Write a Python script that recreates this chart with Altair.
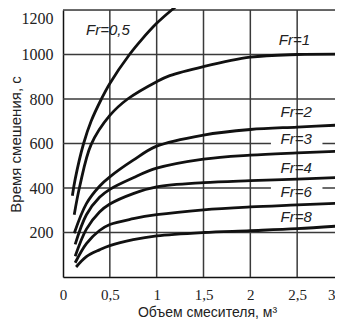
import altair as alt
import pandas as pd

# ---- data ----
fr_names = ["Fr=0,5", "Fr=1", "Fr=2", "Fr=3", "Fr=4", "Fr=6", "Fr=8"]

x_fr05 = [0.10, 0.13, 0.22, 0.30, 0.41, 0.50, 0.71, 0.84, 1.00, 1.16, 1.25]
y_fr05 = [365, 440, 600, 700, 800, 870, 1000, 1067, 1140, 1200, 1230]

x_fr1 = [0.12, 0.18, 0.30, 0.50, 0.69, 1.00, 1.14, 1.50, 2.00, 2.50, 3.00]
y_fr1 = [280, 410, 595, 726, 800, 878, 905, 946, 988, 1000, 1002]

x_common = [0.25, 0.39, 0.50, 0.75, 1.00, 1.50, 2.00, 2.50, 3.00]
x_fr2 = [0.12] + x_common
y_fr2 = [197, 330, 408, 450, 525, 588, 638, 663, 674, 684]
x_fr3 = [0.13] + x_common
y_fr3 = [147, 280, 358, 394, 446, 489, 530, 548, 558, 566]
x_fr4 = [0.13] + x_common
y_fr4 = [93, 215, 292, 328, 375, 405, 424, 433, 440, 448]
x_fr6 = [0.13] + x_common
y_fr6 = [64, 150, 209, 236, 262, 280, 302, 315, 324, 333]
x_fr8 = [0.14] + x_common
y_fr8 = [45, 92, 122, 141, 168, 185, 200, 208, 217, 231]

label_x = [0.48, 2.47, 2.49, 2.49, 2.49, 2.49, 2.49]
label_y = [1111, 1067, 742, 622, 489, 382, 271]

x_ticks = [0, 0.5, 1, 1.5, 2, 2.5, 3]
y_ticks = [200, 400, 600, 800, 1000, 1200]
v_grid = [0.5, 1.0, 1.5, 2.0, 2.5, 3.0]
h_grid = [200, 400, 600, 800, 1000, 1200]
# white gaps behind the labels Fr=3 and Fr=6
gap_x0 = [2.22, 2.22]
gap_x1 = [2.77, 2.77]
gap_y0 = [590, 390]
gap_y1 = [612, 412]

# ---- tables ----
series = [(fr_names[0], x_fr05, y_fr05), (fr_names[1], x_fr1, y_fr1),
          (fr_names[2], x_fr2, y_fr2), (fr_names[3], x_fr3, y_fr3),
          (fr_names[4], x_fr4, y_fr4), (fr_names[5], x_fr6, y_fr6),
          (fr_names[6], x_fr8, y_fr8)]
rows = []
for name, xs, ys in series:
    for i, (xv, yv) in enumerate(zip(xs, ys)):
        rows.append({"fr": name, "x": xv, "y": yv, "i": i})
curves_df = pd.DataFrame(rows)
labels_df = pd.DataFrame({"t": fr_names, "x": label_x, "y": label_y})
hgrid_df = pd.DataFrame({"y": h_grid, "x0": [0] * len(h_grid), "x1": [3] * len(h_grid)})
vgrid_df = pd.DataFrame({"x": v_grid, "y0": [0] * len(v_grid), "y1": [1200] * len(v_grid)})
gap_df = pd.DataFrame({"x0": gap_x0, "x1": gap_x1, "y0": gap_y0, "y1": gap_y1})

num_font = "Liberation Sans Narrow"
title_font = "Liberation Sans"
grid_col = "#3a3a3a"

# the plot runs a little past the right edge of the picture, as in the original
xscale = alt.Scale(domain=[0, 3], nice=False, zero=False, range=[0, 281])
yscale = alt.Scale(domain=[0, 1200], nice=False)

x_axis = alt.Axis(
    values=x_ticks, grid=False, ticks=False, tickSize=0, domain=True,
    domainColor="#111", domainWidth=1.5,
    labelFont=num_font, labelFontSize=15, labelColor="#222", labelPadding=10,
    labelExpr="replace(format(datum.value, '~g'), '.', ',')",
    labelAlign={"condition": {"test": "datum.value >= 3", "value": "right"}, "value": "center"},
    labelOffset={"condition": {"test": "datum.value >= 3", "value": -9}, "value": 0},
    title="Объем смесителя, м³", titleFont=title_font, titleFontSize=14,
    titleFontWeight="normal", titleColor="#222", titleBaseline="alphabetic",
    titleY=39, titleX=144,
)
y_axis = alt.Axis(
    values=y_ticks, grid=False, ticks=False, tickSize=0, domain=True,
    domainColor="#111", domainWidth=1.5, labelFlush=True,
    labelExpr="format(datum.value, 'd')",
    labelFont=num_font, labelFontSize=16, labelColor="#222", labelPadding=10,
    title="Время смешения, с", titleFont=title_font, titleFontSize=15,
    titleFontWeight="normal", titleColor="#222", titleX=-40, titleY=134,
)

hgrid = alt.Chart(hgrid_df).mark_rule(color=grid_col, strokeWidth=1.5).encode(
    x=alt.X("x0:Q", scale=xscale, axis=x_axis),
    x2="x1:Q",
    y=alt.Y("y:Q", scale=yscale, axis=y_axis),
)
gaps = alt.Chart(gap_df).mark_rect(color="white").encode(
    x=alt.X("x0:Q", scale=xscale), x2="x1:Q",
    y=alt.Y("y0:Q", scale=yscale), y2="y1:Q",
)
vgrid = alt.Chart(vgrid_df).mark_rule(color=grid_col, strokeWidth=1.5).encode(
    x=alt.X("x:Q", scale=xscale),
    y=alt.Y("y0:Q", scale=yscale), y2="y1:Q",
)
lines = alt.Chart(curves_df).mark_line(
    color="#111", strokeWidth=2.8, interpolate="catmull-rom"
).encode(
    x=alt.X("x:Q", scale=xscale),
    y=alt.Y("y:Q", scale=yscale),
    detail="fr:N",
    order="i:Q",
)
texts = alt.Chart(labels_df).mark_text(
    font=title_font, fontSize=15, fontStyle="italic", color="#222",
    align="center", baseline="middle",
).encode(
    x=alt.X("x:Q", scale=xscale),
    y=alt.Y("y:Q", scale=yscale),
    text="t:N",
)

chart = alt.layer(hgrid, gaps, vgrid, lines, texts).properties(
    width=272, height=267,
    autosize=alt.AutoSizeParams(type="none"),
    padding={"left": 55, "top": 2, "right": 0, "bottom": 43},
).configure_view(stroke=None).configure(background="white")

chart.save("out.html", embed_options={"renderer": "svg", "actions": False})
